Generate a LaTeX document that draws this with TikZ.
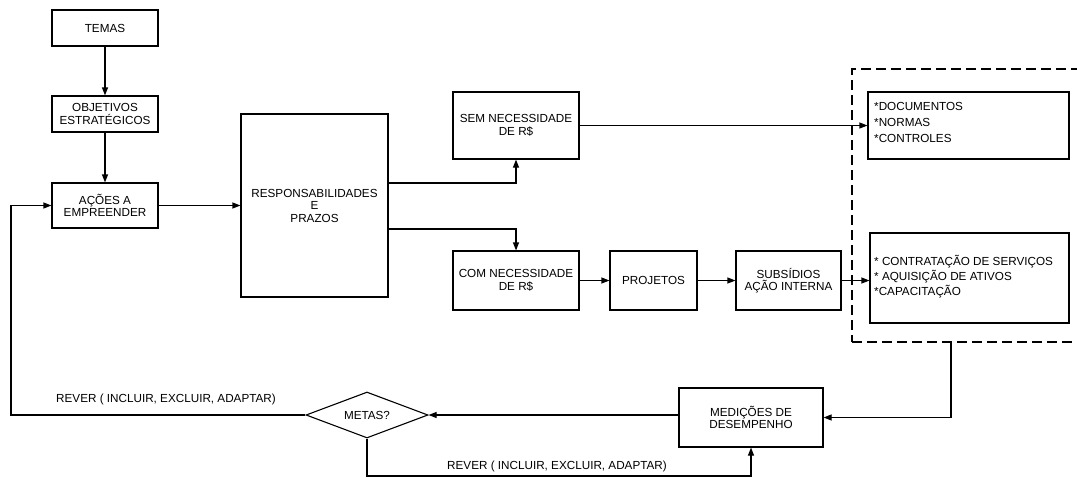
\documentclass[tikz,border=0pt]{standalone}
\usepackage{fontspec}
\setmainfont{Liberation Sans}
\usetikzlibrary{arrows.meta,shapes.geometric}
\begin{document}
\begin{tikzpicture}[x=1pt,y=-1pt,
  box/.style={draw,line width=1.1pt,inner sep=2pt,align=center,font=\fontsize{11.7}{12.5}\selectfont},
  arr/.style={line width=1.1pt,-{Triangle[length=8pt,width=6pt]}},
  lbl/.style={font=\fontsize{11.7}{12.5}\selectfont,inner sep=0pt}]
\clip (0,0) rectangle (1077,477);
\fill[white] (0,0) rectangle (1077,477);
% boxes
\node[box,minimum width=106,minimum height=36] (temas) at (105,28) {TEMAS};
\node[box,minimum width=106,minimum height=36] (obj) at (105,114) {OBJETIVOS\\ESTRATÉGICOS};
\node[box,minimum width=106,minimum height=45] (acoes) at (105,205.5) {AÇÕES A\\EMPREENDER};
\node[box,minimum width=147,minimum height=183] (resp) at (314.5,205.5) {RESPONSABILIDADES\\E\\PRAZOS};
\node[box,minimum width=126,minimum height=67] (sem) at (516,125.5) {SEM NECESSIDADE\\DE R\$};
\node[box,minimum width=126,minimum height=59] (com) at (516,280.5) {COM NECESSIDADE\\DE R\$};
\node[box,minimum width=87,minimum height=59] (proj) at (653.5,280.5) {PROJETOS};
\node[box,minimum width=105,minimum height=59] (subs) at (788.5,280.5) {SUBSÍDIOS\\AÇÃO INTERNA};
\node[draw,line width=1.1pt,minimum width=201,minimum height=67] (doc) at (968.5,125.5) {};
\node[lbl,anchor=north west,align=left,font=\fontsize{11.7}{16}\selectfont] (doctxt) at (874,102) {*DOCUMENTOS\\*NORMAS\\*CONTROLES};
\node[draw,line width=1.1pt,minimum width=199,minimum height=90] (cont) at (969.5,278) {};
\node[lbl,anchor=north west,align=left,font=\fontsize{11.7}{15}\selectfont] (conttxt) at (874,255) {* CONTRATAÇÃO DE SERVIÇOS\\* AQUISIÇÃO DE ATIVOS\\*CAPACITAÇÃO};
\node[draw,dashed,dash pattern=on 10pt off 5pt,line width=2pt,minimum width=248,minimum height=273] (grp) at (976,205.5) {};
\node[box,minimum width=144,minimum height=59] (med) at (751,417.5) {MEDIÇÕES DE\\DESEMPENHO};
\node[draw,diamond,line width=1.1pt,aspect=2.6,inner sep=0pt,minimum width=122,minimum height=46,font=\fontsize{11.7}{12.5}\selectfont] (metas) at (367,415) {METAS?};
% labels
\node[lbl] (rev1) at (166,399) {REVER ( INCLUIR, EXCLUIR, ADAPTAR)};
\node[lbl] (rev2) at (557,466.5) {REVER ( INCLUIR, EXCLUIR, ADAPTAR)};
% coordinates
\coordinate (lb) at (11,415);
\coordinate (bb) at (0,476);
\coordinate (gb) at (951,342);
% connectors
\draw[arr] (temas) -- (obj);
\draw[arr] (obj) -- (acoes);
\draw[arr] (acoes) -- (resp);
\draw[arr] ([yshift=22.5pt]resp.east) -| (sem.south);
\draw[arr] ([yshift=-23.5pt]resp.east) -| (com.north);
\draw[arr] (sem.east) -- (sem.east -| doc.west);
\draw[arr] (com) -- (proj);
\draw[arr] (proj) -- (subs);
\draw[arr] (subs.east) -- (subs.east -| cont.west);
\draw[arr] (gb) |- (med.east);
\draw[arr] (metas.east -| med.west) -- (metas.east);
\draw[arr] (metas.west) -- (lb) |- (acoes.west);
\draw[arr] (metas.south) -- (metas.south |- bb) -| (med.south);
\end{tikzpicture}
\end{document}
